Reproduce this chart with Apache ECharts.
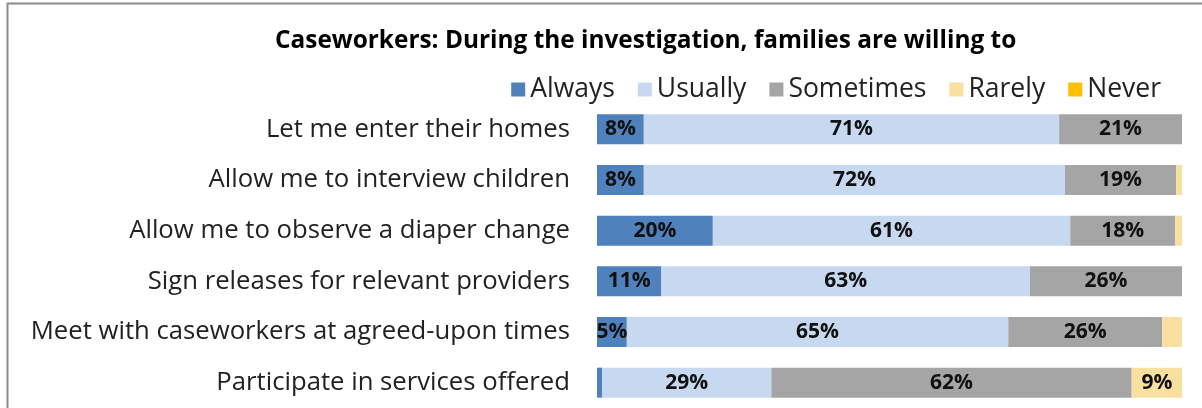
<!DOCTYPE html>
<html>
<head>
<meta charset="utf-8">
<script src="https://cdn.jsdelivr.net/npm/echarts@6/dist/echarts.min.js"></script>
<style>
  html, body { margin: 0; padding: 0; background: #fff; }
  #chart { width: 1202px; height: 408px; }
</style>
</head>
<body>
<div id="chart"></div>
<script>
// categories top to bottom
const categories = [
  'Let me enter their homes',
  'Allow me to interview children',
  'Allow me to observe a diaper change',
  'Sign releases for relevant providers',
  'Meet with caseworkers at agreed-upon times',
  'Participate in services offered'
]
// percent values
const always    = [8, 8, 19.8, 11, 5.1, 0.9]
const usually   = [71, 72, 61.1, 63, 65.2, 28.9]
const sometimes = [21, 19, 17.9, 26, 26.3, 61.6]
const rarely    = [0, 1, 1.2, 0, 3.4, 8.6]
const never     = [0, 0, 0, 0, 0, 0]

const names = ['Always', 'Usually', 'Sometimes', 'Rarely', 'Never']
const colors = ['#4f81bd', '#c6d9f1', '#a5a5a5', '#fae0a0', '#ffc000']
const values = [always, usually, sometimes, rarely, never]

const font = 'Open Sans'

let myChart = echarts.init(document.getElementById('chart'))

const series = values.map((v, i) => ({
  name: names[i],
  type: 'bar',
  stack: 'total',
  barWidth: 30,
  data: v,
  itemStyle: { color: colors[i] },
  label: {
    show: true,
    position: 'inside',
    color: '#111',
    fontFamily: font,
    fontWeight: 'bold',
    fontSize: 21,
    // hide tiny slices like the original
    formatter: p => (p.value < 4.5 ? '' : Math.round(p.value) + '%'),
  },
  emphasis: { disabled: true },
}))

let option = {
  animation: false,
  title: {
    text: 'Caseworkers: During the investigation, families are willing to',
    left: 270,
    top: 24,
    textStyle: { fontFamily: font, fontWeight: 'bold', fontSize: 24.4, color: '#000' },
  },
  legend: {
    right: 36,
    top: 71,
    itemWidth: 14,
    itemHeight: 14,
    itemGap: 23,
    icon: 'rect',
    textStyle: { fontFamily: font, fontSize: 26.5, color: '#222' },
    data: names,
  },
  grid: { left: 597, right: 20, top: 104, bottom: -1 },
  xAxis: {
    type: 'value',
    min: 0,
    max: 100,
    show: false,
  },
  yAxis: {
    type: 'category',
    data: categories,
    inverse: true,
    axisLine: { show: false },
    axisTick: { show: false },
    axisLabel: { fontFamily: font, fontSize: 25.7, color: '#222', margin: 27 },
  },
  graphic: [
    {
      type: 'polyline',
      shape: { points: [[7.5, 408], [7.5, 3.5], [1202, 3.5]] },
      style: { stroke: '#8a8a8a', lineWidth: 2, fill: null },
    },
  ],
  series: series,
}
myChart.setOption(option)
</script>
</body>
</html>
